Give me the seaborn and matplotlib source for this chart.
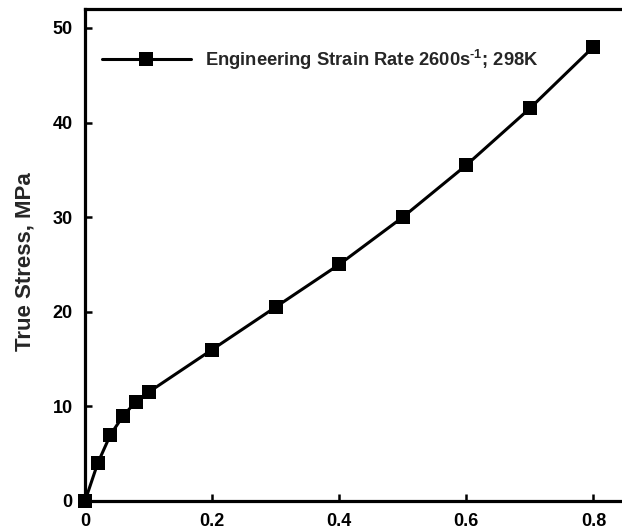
import matplotlib
matplotlib.use("Agg")
import matplotlib.pyplot as plt
import seaborn as sns
import pandas as pd

# True stress-strain data at 2600 1/s, 298 K
strain = [0.0, 0.02, 0.04, 0.06, 0.08, 0.10, 0.20, 0.30, 0.40, 0.50, 0.60, 0.70, 0.80]
stress = [0.0, 4.0, 7.0, 9.0, 10.5, 11.5, 16.0, 20.5, 25.0, 30.0, 35.5, 41.5, 48.0]
series_label = "Engineering Strain Rate 2600s$^{\\text{-1}}$; 298K"
x_ticks = [0, 0.2, 0.4, 0.6, 0.8]
x_tick_labels = ["0", "0.2", "0.4", "0.6", "0.8"]
y_ticks = [0, 10, 20, 30, 40, 50]

sns.set_style("ticks")
plt.rcParams["font.family"] = ["Liberation Sans", "DejaVu Sans"]
plt.rcParams["font.weight"] = "bold"
plt.rcParams["mathtext.fontset"] = "custom"
plt.rcParams["mathtext.rm"] = "Liberation Sans:bold"
plt.rcParams["mathtext.bf"] = "Liberation Sans:bold"
plt.rcParams["mathtext.it"] = "Liberation Sans:bold"

df = pd.DataFrame({"strain": strain, "stress": stress})

fig = plt.figure(figsize=(6.22, 5.31), dpi=100)
ax = fig.add_axes([0.1367, 0.0565, 0.8633, 0.9265])

sns.lineplot(data=df, x="strain", y="stress", ax=ax, color="black",
             marker="s", markersize=9.6, markeredgewidth=0,
             linewidth=2.2, label=series_label, clip_on=False, zorder=5)

ax.set_xlim(0, 0.845)
ax.set_ylim(0, 52)
ax.set_xticks(x_ticks)
ax.set_xticklabels(x_tick_labels)
ax.set_yticks(y_ticks)
ax.set_xlabel("")
ax.set_ylabel("True Stress, MPa", fontsize=16, fontweight="bold")
ax.yaxis.set_label_coords(-0.092, 0.487)

for side in ["left", "bottom", "top"]:
    ax.spines[side].set_linewidth(2.3)
    ax.spines[side].set_color("black")
ax.spines["right"].set_visible(False)

ax.tick_params(axis="both", direction="in", length=5, width=1.8,
               labelsize=13, pad=9, colors="black")
for lbl in ax.get_xticklabels() + ax.get_yticklabels():
    lbl.set_fontweight("bold")

leg = ax.legend(loc="upper left", frameon=False, fontsize=13.2,
                handlelength=4.9, handletextpad=0.75,
                bbox_to_anchor=(0.0, 0.955), borderaxespad=0.5)
for t in leg.get_texts():
    t.set_fontweight("bold")

fig.savefig("out.png", dpi=100)
